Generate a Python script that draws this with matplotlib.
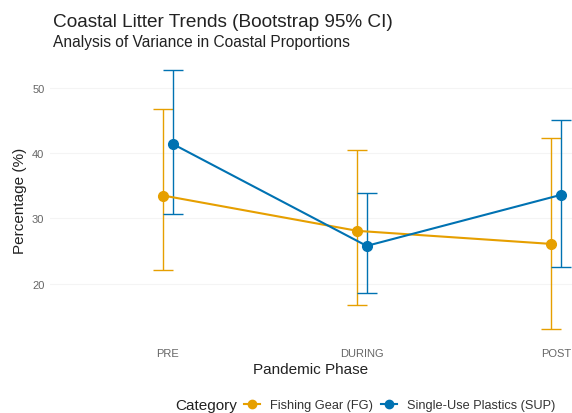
import numpy as np
import matplotlib
matplotlib.use("Agg")
import matplotlib.pyplot as plt
from matplotlib.lines import Line2D

plt.rcParams["font.family"] = ["Liberation Sans", "DejaVu Sans"]

# ── Data (bootstrap means and 95% CI) ───────────────────────────────────────────
phases   = ["PRE", "DURING", "POST"]
fg_mean  = [33.5, 28.1, 26.1]
fg_lo    = [22.1, 16.8, 13.1]
fg_hi    = [46.8, 40.5, 42.3]
sup_mean = [41.4, 25.8, 33.6]
sup_lo   = [30.7, 18.6, 22.6]
sup_hi   = [52.7, 33.9, 45.0]

series = [
    ("Fishing Gear (FG)",         fg_mean,  fg_lo,  fg_hi,  "#E69F00", -0.024),
    ("Single-Use Plastics (SUP)", sup_mean, sup_lo, sup_hi, "#0072B2",  0.024),
]

fig = plt.figure(figsize=(5.72, 4.14), dpi=100, facecolor="white")
ax = fig.add_axes([0.0874, 0.1715, 0.9126, 0.6885])
ax.set_facecolor("white")

x = np.arange(len(phases))
for name, mean, lo, hi, col, off in series:
    mean = np.array(mean); lo = np.array(lo); hi = np.array(hi)
    xs = x + off
    ax.errorbar(xs, mean, yerr=[mean - lo, hi - mean], fmt="none",
                ecolor=col, elinewidth=1.0, capsize=7.5, capthick=1.0, zorder=1)
    ax.plot(xs, mean, color=col, lw=1.5, zorder=2)
    ax.plot(xs, mean, "o", color=col, ms=7, zorder=3)

ax.set_xlim(-0.608, 2.082)
ax.set_ylim(11.1, 54.7)
ax.set_xticks(x)
ax.set_xticklabels(phases)
ax.set_yticks([20, 30, 40, 50])
ax.tick_params(length=0, labelsize=8, labelcolor="#666666", pad=4)
for s in ax.spines.values():
    s.set_visible(False)
ax.grid(axis="y", color="#f4f4f4", lw=0.8)
ax.set_axisbelow(True)

ax.set_xlabel("Pandemic Phase", fontsize=11, color="#222222", labelpad=3)
ax.set_ylabel("Percentage (%)", fontsize=11, color="#222222", labelpad=4)

# ── Titles ─────────────────────────────────────────────────────────────────────
fig.text(0.093, 0.935, "Coastal Litter Trends (Bootstrap 95% CI)",
         fontsize=13.7, color="#222222", va="baseline")
fig.text(0.093, 0.887, "Analysis of Variance in Coastal Proportions",
         fontsize=11.2, color="#222222", va="baseline")

# ── Legend ─────────────────────────────────────────────────────────────────────
handles = [Line2D([0], [0], color=col, lw=1.5, marker="o", ms=6)
           for _, _, _, _, col, _ in series]
labels = [name for name, *_ in series]
fig.text(0.306, 0.019, "Category", fontsize=11, color="#222222", va="center")
fig.legend(handles, labels, loc="center left", bbox_to_anchor=(0.426, 0.019),
           ncol=2, frameon=False, fontsize=9.2, handlelength=1.3,
           handletextpad=0.75, columnspacing=0.6, borderpad=0, borderaxespad=0,
           labelcolor="#333333")

plt.savefig("out.png", dpi=100, facecolor="white")
plt.close()
